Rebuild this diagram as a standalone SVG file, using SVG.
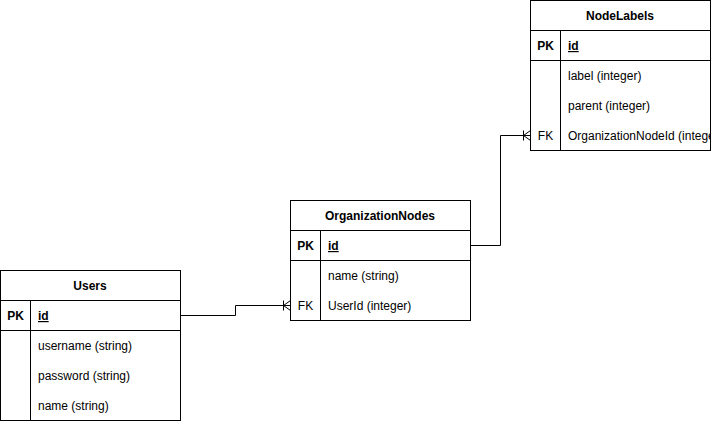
<svg xmlns="http://www.w3.org/2000/svg" width="711" height="421" viewBox="0 0 711 421">
<style>
.box{fill:#fff;stroke:#000;stroke-width:1}
.ln{stroke:#000;stroke-width:1;fill:none}
text{font-family:"Liberation Sans",Arial,Helvetica,sans-serif;font-size:12px;fill:#000}
.t{font-weight:bold;text-anchor:middle}
.k{font-weight:bold;text-anchor:middle}
.pk{font-weight:bold;text-decoration:underline}
.edge{stroke:#000;stroke-width:1;fill:none}
</style>
<defs>
<clipPath id="clipNL"><rect x="530" y="0" width="180" height="151"/></clipPath>
</defs>
<rect x="0" y="0" width="711" height="421" fill="#fff"/>
<g id="connectors">
<path class="edge" d="M180.5 315.5 H235.5 V305.5 H290.5"/>
<path class="edge" d="M283.5 300.5 V310.5 M283.5 305.5 L290.5 300.5 M283.5 305.5 L290.5 310.5"/>
<path class="edge" d="M470.5 245.5 H500.5 V135.5 H530.5"/>
<path class="edge" d="M523.5 130.5 V140.5 M523.5 135.5 L530.5 130.5 M523.5 135.5 L530.5 140.5"/>
</g>
<g id="Users">
<rect class="box" x="0.5" y="270.5" width="180" height="150"/>
<path class="ln" d="M0.5 300.5 H180.5 M0.5 330.5 H180.5 M30.5 300.5 V420.5"/>
<text class="t" x="90" y="290">Users</text>
<text class="k" x="15.5" y="320">PK</text>
<text class="pk" x="38" y="320">id</text>
<text x="38" y="350">username (string)</text>
<text x="38" y="380">password (string)</text>
<text x="38" y="410">name (string)</text>
</g>
<g id="OrganizationNodes">
<rect class="box" x="290.5" y="200.5" width="180" height="120"/>
<path class="ln" d="M290.5 230.5 H470.5 M290.5 260.5 H470.5 M320.5 230.5 V320.5"/>
<text class="t" x="380" y="220">OrganizationNodes</text>
<text class="k" x="305.5" y="250">PK</text>
<text class="pk" x="328" y="250">id</text>
<text x="328" y="280">name (string)</text>
<text x="305.5" y="310" text-anchor="middle">FK</text>
<text x="328" y="310">UserId (integer)</text>
</g>
<g id="NodeLabels">
<rect class="box" x="530.5" y="0.5" width="180" height="150"/>
<path class="ln" d="M530.5 30.5 H710.5 M530.5 60.5 H710.5 M560.5 30.5 V150.5"/>
<text class="t" x="620" y="20">NodeLabels</text>
<text class="k" x="545.5" y="50">PK</text>
<text class="pk" x="568" y="50">id</text>
<text x="568" y="80">label (integer)</text>
<text x="568" y="110">parent (integer)</text>
<text x="545.5" y="140" text-anchor="middle">FK</text>
<text x="568" y="140" clip-path="url(#clipNL)">OrganizationNodeId (integer)</text>
</g>
</svg>
